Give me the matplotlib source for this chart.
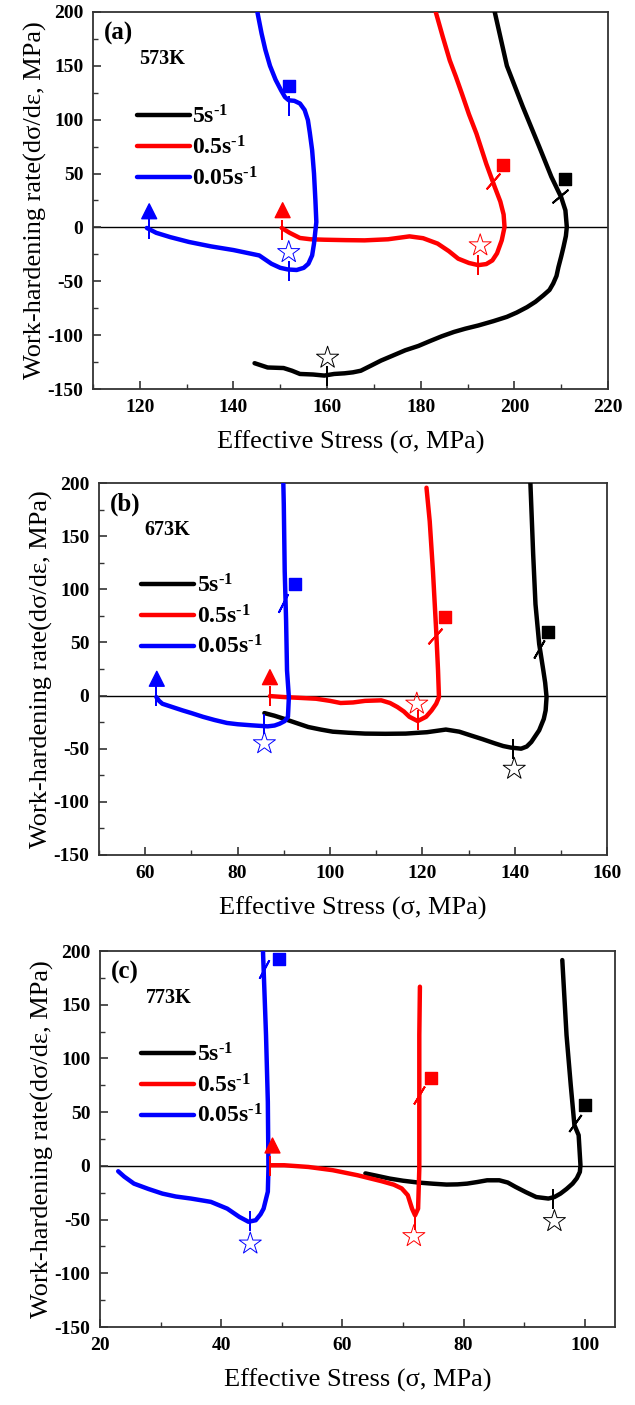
import matplotlib
matplotlib.use("Agg")
import matplotlib.pyplot as plt
from matplotlib.ticker import MultipleLocator

plt.rcParams['font.family'] = ['Liberation Serif', 'DejaVu Serif']
plt.rcParams['mathtext.fontset'] = 'custom'
plt.rcParams['mathtext.rm'] = 'Liberation Serif:bold'
plt.rcParams['mathtext.it'] = 'Liberation Serif:bold'
plt.rcParams['mathtext.bf'] = 'Liberation Serif:bold'
plt.rcParams['axes.unicode_minus'] = False

rates = [r'5s$^{\text{-1}}$', r'0.5s$^{\text{-1}}$', r'0.05s$^{\text{-1}}$']
colors = ['black', '#ff0000', '#0000ff']

# ---- (a) 573K ----
a_x_5 = [144.5, 147.3, 150.7, 152.5, 154.2, 157.0, 159.4, 161.5, 163.7, 165.5, 167.2, 169.5, 171.5,
         174.0, 176.7, 179.5, 181.9, 184.5, 187.1, 189.5, 192.3, 195.5, 198.4, 200.5, 202.7, 204.5,
         206.2, 207.5, 208.3, 209.0, 209.4, 210.0, 210.5, 211.0, 211.2, 210.9, 210.0, 207.9, 205.3,
         201.8, 198.4, 195.8]
a_y_5 = [-126, -130, -130.5, -133, -136, -136.5, -137.5, -136, -135.4, -134.5, -133, -128, -123.6,
         -119, -114, -110, -105.6, -101, -97, -94, -91, -87, -83, -79, -74, -69,
         -63, -58, -52, -45, -37, -27, -18, -8, 0.4, 15.9, 28, 47, 75,
         112, 150, 200]
a_x_05 = [150.3, 152.0, 154.2, 156.5, 159.4, 164.0, 168.0, 173.0, 177.6, 180.5, 183.6, 186.0, 188.0,
          190.3, 192.3, 194.0, 195.3, 196.3, 197.3, 197.9, 197.7, 197.0, 195.8, 194.0, 191.9, 190.3,
          188.8, 187.5, 186.2, 184.7, 183.2]
a_y_05 = [-0.5, -5, -9.8, -11, -11.4, -11.8, -12, -11, -8.3, -10, -15, -22, -29,
          -33, -35, -34, -30.6, -24, -12, 0.4, 12, 24, 37.6, 59, 87, 105,
          124, 140, 155, 177, 200]
a_x_005 = [121.5, 123.5, 126.5, 130.5, 135.2, 140.0, 145.5, 148.1, 150.0, 151.6, 153.5, 155.0, 156.0,
           156.8, 157.2, 157.7, 157.5, 157.2, 156.8, 156.3, 155.9, 155.2, 154.2, 153.0, 151.8, 151.0,
           150.2, 149.0, 147.8, 146.8, 146.0, 145.1]
a_y_005 = [-0.5, -5, -9, -13.5, -17.6, -21, -26, -33.7, -37.5, -39, -39.5, -37.5, -33.7,
           -26, -15, 5, 25, 50, 71.7, 88, 99.6, 109, 115, 117.5, 118, 121,
           127, 137, 150, 165, 180, 200]
a_sq_x = [210.9, 197.5, 151.8]
a_sq_y = [44.7, 57.7, 131]
a_tri_x = [150.5, 122.0]
a_tri_y = [16, 15]
a_star_x = [160.1, 192.7, 151.8]
a_star_y = [-121, -16.7, -23]
# short cut marks on the curves: x, y, tilt (deg)
a_cut_x = [[160.0, 209.8], [150.3, 192.3, 195.4], [122.0, 151.8, 151.8]]
a_cut_y = [[-138, 29], [-2, -35, 43], [-1, -40, 113]]
a_cut_ang = [[0, -50], [0, 0, -41], [0, 0, 0]]

# ---- (b) 673K ----
b_x_5 = [85.8, 88.0, 90.0, 92.5, 95.3, 98.0, 100.6, 104.0, 107.6, 112.0, 116.4, 121.0, 125.1,
         128.0, 130.4, 133.0, 135.7, 137.5, 139.2, 141.4, 142.6, 143.6, 145.3, 146.3, 146.7, 146.9,
         146.6, 146.2, 145.3, 144.5, 144.0, 143.4]
b_y_5 = [-16.5, -19, -21.8, -25.5, -29.6, -32, -34, -35, -35.8, -36, -35.8, -34.5, -32,
         -34, -37.4, -41, -45, -47.5, -49, -50, -48, -43.7, -32.7, -22, -14, -1.4,
         12, 23.6, 48.6, 86, 133, 200]
b_x_05 = [87.0, 90.0, 93.5, 97.0, 100.0, 102.3, 105.0, 107.6, 111.1, 113.0, 114.6, 116.0, 117.2,
          119.0, 120.8, 122.0, 123.0, 123.6, 123.4, 123.0, 122.3, 121.6, 120.9]
b_y_05 = [-0.5, -1.4, -2.2, -3, -5, -7, -6.5, -5, -4.5, -7, -10.8, -15, -20,
          -24, -20, -14, -7.7, -1.4, 23.6, 61, 117, 164, 195.6]
b_x_005 = [62.4, 63.0, 63.7, 66.0, 68.1, 70.0, 72.5, 75.0, 77.7, 80.0, 83.0, 86.5, 88.0, 89.1,
           90.2, 90.9, 91.1, 90.7, 90.5, 90.2, 90.0, 89.9]
b_y_005 = [-1.4, -5, -7.7, -11, -14, -16.5, -20, -23, -25.8, -27, -28, -29, -28.2, -26.5,
           -24, -20, -1.4, 23.6, 70.5, 117, 180, 200]
b_sq_x = [147.3, 125.0, 92.5]
b_sq_y = [59.5, 73.6, 105]
b_tri_x = [87.0, 62.5]
b_tri_y = [17.3, 15.8]
b_star_x = [139.9, 118.8, 85.8]
b_star_y = [-69, -7.7, -45]
b_cut_x = [[139.6, 145.2], [87.0, 119.0, 122.7], [62.4, 85.8, 89.8]]
b_cut_y = [[-50, 44], [0, -23, 56], [-0.5, -27, 87]]
b_cut_ang = [[0, -30], [0, 0, -42], [0, 0, -27]]

# ---- (c) 773K ----
c_x_5 = [63.8, 65.5, 67.8, 70.0, 72.5, 75.0, 77.2, 79.0, 80.6, 82.3, 83.9, 85.9, 87.3, 88.6,
         90.3, 92.0, 94.0, 95.0, 96.0, 97.0, 98.0, 98.7, 99.2, 99.3, 99.0, 98.3, 97.7, 97.0, 96.3]
c_y_5 = [-7, -9, -11.8, -13.8, -15.5, -16.6, -17.4, -17.2, -16.5, -15, -13.4, -13.4, -15.5, -19.6,
         -24.5, -29, -30.4, -29, -25.8, -21.5, -16.5, -11.5, -5.6, 0.6, 28.6, 38, 75, 121.7, 191.6]
c_x_05 = [48.0, 50.4, 54.4, 58.4, 62.5, 66.5, 68.5, 69.8, 70.8, 71.5, 72.0, 72.5, 72.7, 72.7,
          72.7, 72.7, 72.8]
c_y_05 = [0.6, 0.6, -1, -4, -8.7, -14.3, -17.5, -21, -27.3, -39.8, -46, -39.8, -2.5, 59.6,
          100, 121.7, 166.8]
c_x_005 = [23.0, 24.0, 25.6, 28.0, 30.3, 32.5, 35.0, 38.3, 41.0, 43.0, 44.5, 45.7, 46.5, 47.0,
           47.7, 47.8, 47.7, 47.4, 47.0, 46.9]
c_y_005 = [-5, -10, -16.5, -21.5, -25.8, -28.5, -30.4, -33.5, -39.8, -47.5, -52, -50.6, -45,
           -39.8, -24, -2.5, 59.6, 121.7, 183.9, 200]
c_sq_x = [100.0, 74.7, 49.6]
c_sq_y = [56.5, 81.4, 192.5]
c_tri_x = [48.4]
c_tri_y = [19]
c_star_x = [95.0, 71.8, 44.8]
c_star_y = [-51.5, -65.5, -72.4]
c_cut_x = [[94.8, 98.4], [48.0, 72.0, 72.6], [44.7, 47.0]]
c_cut_y = [[-31, 40], [0, -50, 66], [-51, 183]]
c_cut_ang = [[0, -36], [0, 0, -31], [0, -28]]

panels = [
    dict(pos=[0.1465, 0.7231, 0.811, 0.2684], xlim=(110, 220), tag='(a)', temp='573K',
         xs=[a_x_5, a_x_05, a_x_005], ys=[a_y_5, a_y_05, a_y_005],
         sq=(a_sq_x, a_sq_y), tri=(a_tri_x, a_tri_y), tri_c=colors[1:], star=(a_star_x, a_star_y),
         cut=(a_cut_x, a_cut_y, a_cut_ang), leg=(0.085, 0.752)),
    dict(pos=[0.156, 0.3915, 0.800, 0.2647], xlim=(50, 160), tag='(b)', temp='673K',
         xs=[b_x_5, b_x_05, b_x_005], ys=[b_y_5, b_y_05, b_y_005],
         sq=(b_sq_x, b_sq_y), tri=(b_tri_x, b_tri_y), tri_c=colors[1:], star=(b_star_x, b_star_y),
         cut=(b_cut_x, b_cut_y, b_cut_ang), leg=(0.083, 0.755)),
    dict(pos=[0.1575, 0.0555, 0.8110, 0.2676], xlim=(20, 105), tag='(c)', temp='773K',
         xs=[c_x_5, c_x_05, c_x_005], ys=[c_y_5, c_y_05, c_y_005],
         sq=(c_sq_x, c_sq_y), tri=(c_tri_x, c_tri_y), tri_c=colors[1:2], star=(c_star_x, c_star_y),
         cut=(c_cut_x, c_cut_y, c_cut_ang), leg=(0.080, 0.755)),
]

fig = plt.figure(figsize=(6.35, 14.05), dpi=100)

for p in panels:
    ax = fig.add_axes(p['pos'])
    ax.axhline(0, color='black', lw=1.0, zorder=1)

    for xs, ys, c, lab in zip(p['xs'], p['ys'], colors, rates):
        ax.plot(xs, ys, color=c, lw=3.2, solid_capstyle='round', solid_joinstyle='round',
                label=lab, zorder=3)

    # cut marks
    for cx, cy, ca, c in zip(*p['cut'], colors):
        for x, y, a in zip(cx, cy, ca):
            ax.plot(x, y, linestyle='none', marker=(2, 2, a), markersize=15,
                    markeredgewidth=1.4, color=c, zorder=4)

    ax.scatter(p['sq'][0], p['sq'][1], marker='s', s=75, c=colors, zorder=5)
    ax.scatter(p['tri'][0], p['tri'][1], marker='^', s=115, c=p['tri_c'], zorder=5)
    ax.scatter(p['star'][0], p['star'][1], marker='*', s=280, facecolors='none',
               edgecolors=colors, linewidths=0.7, zorder=5)

    ax.set_xlim(*p['xlim'])
    ax.set_ylim(-150, 200)
    ax.xaxis.set_major_locator(MultipleLocator(20))
    ax.xaxis.set_minor_locator(MultipleLocator(10))
    ax.yaxis.set_major_locator(MultipleLocator(50))
    ax.yaxis.set_minor_locator(MultipleLocator(25))
    ax.tick_params(which='both', direction='in', top=False, right=False, color='#333333')
    ax.tick_params(which='major', length=6, width=1.2, labelsize=14, pad=7)
    ax.tick_params(which='minor', length=3.5, width=1.0)
    for lbl in ax.get_xticklabels() + ax.get_yticklabels():
        lbl.set_fontweight('bold')
    for s in ax.spines.values():
        s.set_color('#333333')
        s.set_linewidth(1.3)

    ax.set_xlabel('Effective Stress (σ, MPa)', fontsize=19, labelpad=11)
    ax.set_ylabel('Work-hardening rate(dσ/dε, MPa)', fontsize=19, labelpad=0)

    ax.text(0.022, 0.944, p['tag'], transform=ax.transAxes, fontsize=18, fontweight='bold',
            va='center', ha='left')
    ax.text(0.09, 0.875, p['temp'], transform=ax.transAxes, fontsize=14.5, fontweight='bold',
            va='center', ha='left')

    ax.legend(loc='upper left', bbox_to_anchor=p['leg'], frameon=False,
              handlelength=2.25, handletextpad=0.1, labelspacing=0.32, borderaxespad=0,
              borderpad=0, prop={'weight': 'bold', 'size': 17})

fig.savefig('out.png', dpi=100)
